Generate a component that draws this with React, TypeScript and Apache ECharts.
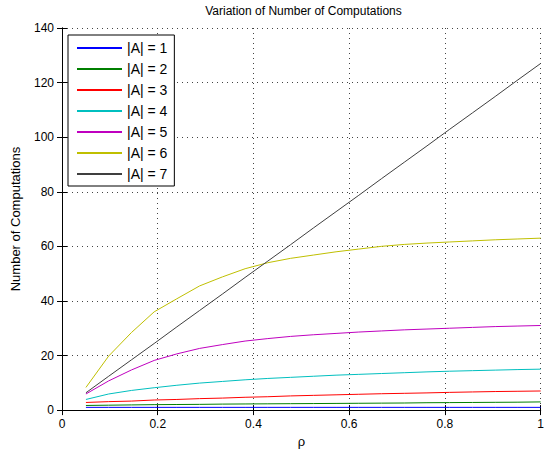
import React, { useEffect, useRef } from "react";
import * as echarts from "echarts";

const rho = [0.05, 0.0975, 0.145, 0.1925, 0.24, 0.2875, 0.335, 0.3825, 0.43, 0.4775, 0.525, 0.5725, 0.62, 0.6675, 0.715, 0.7625, 0.81, 0.8575, 0.905, 0.9525, 1.0];

const a1 = [1, 1, 1, 1, 1, 1, 1, 1, 1, 1, 1, 1, 1, 1, 1, 1, 1, 1, 1, 1, 1];
const a2 = [1.7, 1.8, 1.9, 2.0, 2.05, 2.1, 2.2, 2.25, 2.3, 2.35, 2.4, 2.45, 2.5, 2.55, 2.6, 2.7, 2.75, 2.8, 2.85, 2.9, 3.0];
const a3 = [2.8, 3.1, 3.3, 3.7, 3.9, 4.2, 4.4, 4.7, 4.9, 5.2, 5.4, 5.6, 5.8, 6.0, 6.15, 6.3, 6.5, 6.65, 6.8, 6.9, 7.0];
const a4 = [3.9, 5.9, 7.2, 8.2, 9.1, 9.9, 10.5, 11.1, 11.6, 12.0, 12.4, 12.8, 13.1, 13.4, 13.7, 14.0, 14.25, 14.45, 14.65, 14.85, 15.0];
const a5 = [5.9, 10.7, 14.7, 18.2, 20.6, 22.6, 24.0, 25.3, 26.2, 27.0, 27.6, 28.1, 28.6, 29.0, 29.4, 29.7, 30.0, 30.3, 30.6, 30.8, 31.0];
const a6 = [8.3, 19.8, 28.4, 36.0, 40.8, 45.5, 48.8, 51.8, 54.0, 55.6, 56.8, 58.0, 59.0, 60.0, 60.7, 61.2, 61.6, 62.0, 62.4, 62.7, 63.0];
const a7 = [6.35, 12.4, 18.4, 24.4, 30.5, 36.5, 42.5, 48.6, 54.6, 60.6, 66.7, 72.7, 78.7, 84.8, 90.8, 96.8, 102.9, 108.9, 114.9, 121.0, 127.0];

const seriesNames = ["|A| = 1", "|A| = 2", "|A| = 3", "|A| = 4", "|A| = 5", "|A| = 6", "|A| = 7"];
const seriesData = [a1, a2, a3, a4, a5, a6, a7];
const colors = ["#0000ff", "#007f00", "#ff0000", "#00bfbf", "#bf00bf", "#bfbf00", "#3f3f3f"];

const FONT = "Liberation Sans, Arial, Helvetica, sans-serif";

export default function App() {
  const ref = useRef<HTMLDivElement>(null);
  useEffect(() => {
    if (!ref.current) return;
    const chart = echarts.init(ref.current, undefined, { renderer: "svg" });
    const gridLine = { show: true, lineStyle: { color: "#444", type: [1, 4] as any, width: 1 } };
    const axisLine = { show: true, lineStyle: { color: "#000", width: 1 } };
    chart.setOption({
      animation: false,
      backgroundColor: "#fff",
      textStyle: { fontFamily: FONT },
      grid: { left: 62, right: 2, top: 28, bottom: 42, containLabel: false },
      graphic: [
        {
          type: "text",
          x: 303.5,
          y: 5,
          style: { text: "Variation of Number of Computations", textAlign: "center", font: `12px ${FONT}`, fill: "#000" },
        },
      ],
      legend: {
        orient: "vertical",
        left: 68,
        top: 35,
        backgroundColor: "#fff",
        borderColor: "#000",
        borderWidth: 1,
        borderRadius: 0,
        padding: [6, 7, 5, 9],
        icon: "rect",
        itemWidth: 45,
        itemHeight: 2,
        itemGap: 7,
        textStyle: { fontSize: 14, lineHeight: 14, color: "#000", fontFamily: FONT, padding: [0, 0, 0, 0] },
        data: seriesNames,
      },
      xAxis: [
        {
          type: "value",
          min: 0,
          max: 1,
          interval: 0.2,
          name: "ρ",
          nameLocation: "middle",
          nameGap: 24,
          nameTextStyle: { fontSize: 13, color: "#000", fontFamily: FONT },
          axisLine,
          axisTick: { show: true, inside: true, length: 5, lineStyle: { color: "#000" } },
          axisLabel: { color: "#000", fontSize: 12, margin: 8, fontFamily: FONT, formatter: (v: number) => String(Math.round(v * 10) / 10) },
          splitLine: gridLine,
        },
        {
          type: "value",
          position: "top",
          min: 0,
          max: 1,
          interval: 0.2,
          axisLine,
          axisTick: { show: true, inside: true, length: 5, lineStyle: { color: "#000" } },
          axisLabel: { show: false },
          splitLine: { show: false },
        },
      ],
      yAxis: [
        {
          type: "value",
          min: 0,
          max: 140,
          interval: 20,
          name: "Number of Computations",
          nameLocation: "middle",
          nameGap: 40,
          nameTextStyle: { fontSize: 13, color: "#000", fontFamily: FONT },
          axisLine,
          axisTick: { show: true, inside: true, length: 5, lineStyle: { color: "#000" } },
          axisLabel: { color: "#000", fontSize: 12, margin: 8, fontFamily: FONT },
          splitLine: gridLine,
        },
        {
          type: "value",
          position: "right",
          min: 0,
          max: 140,
          interval: 20,
          axisLine,
          axisTick: { show: true, inside: true, length: 5, lineStyle: { color: "#000" } },
          axisLabel: { show: false },
          splitLine: { show: false },
        },
      ],
      series: seriesNames.map((name, i) => ({
        name,
        type: "line",
        symbol: "none",
        showSymbol: false,
        color: colors[i],
        itemStyle: { color: colors[i] },
        lineStyle: { width: 1, color: colors[i] },
        data: rho.map((x, j) => [x, seriesData[i][j]]),
      })),
    });
    return () => chart.dispose();
  }, []);
  return <div ref={ref} style={{ position: "fixed", left: 0, top: 0, width: 547, height: 453 }} />;
}
